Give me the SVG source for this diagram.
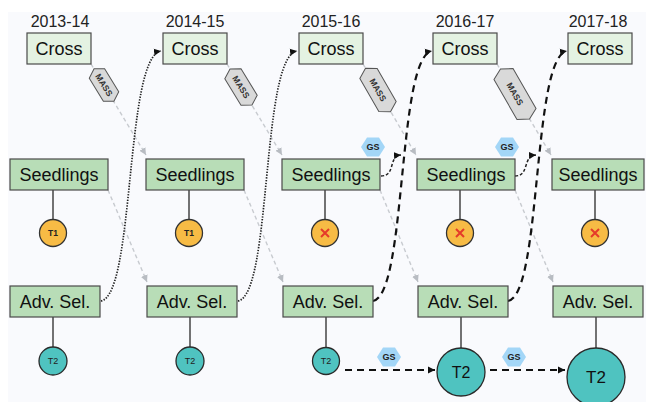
<svg xmlns="http://www.w3.org/2000/svg" width="646" height="402" viewBox="0 0 646 402">
<defs>
<style>
.yr{font-family:"Liberation Sans",Arial,sans-serif;font-size:16px;fill:#222;text-anchor:middle}
.lbl{font-family:"Liberation Sans",Arial,sans-serif;font-size:18px;fill:#111;text-anchor:middle}
.cross{fill:#e4f2e2;stroke:#4a4a4a;stroke-width:1.2}
.box{fill:#b8ddb7;stroke:#4a4a4a;stroke-width:1.2}
.stem{stroke:#444;stroke-width:1.5}
.t1{fill:#f7bb45;stroke:#333;stroke-width:1.3}
.t2{fill:#4fc3c0;stroke:#2a2a2a;stroke-width:1.3}
.small{font-family:"Liberation Sans",Arial,sans-serif;font-size:8.5px;font-weight:bold;fill:#222;text-anchor:middle}
.t2s{font-family:"Liberation Sans",Arial,sans-serif;font-size:9px;fill:#222;text-anchor:middle}
.xm{stroke:#e53a2a;stroke-width:2}
.mass{fill:#d9d9d9;stroke:#555;stroke-width:1}
.masst{font-family:"Liberation Sans",Arial,sans-serif;font-size:8.5px;font-weight:bold;fill:#333;text-anchor:middle}
.gs{fill:#a3d6f7}
.gst{font-family:"Liberation Sans",Arial,sans-serif;font-size:9px;font-weight:bold;fill:#222;text-anchor:middle}
.gray{fill:none;stroke:#c8cbd0;stroke-width:1.4;stroke-dasharray:4 3}
.dot{fill:none;stroke:#222;stroke-width:1.7;stroke-dasharray:1.4 1.4}
.dash{fill:none;stroke:#111;stroke-width:2.2;stroke-dasharray:7 5}
.sdash{fill:none;stroke:#222;stroke-width:1.5;stroke-dasharray:3 2}
</style>
<marker id="ag" markerWidth="8" markerHeight="8" refX="7" refY="4" orient="auto" markerUnits="userSpaceOnUse"><path d="M0,0.5 L7,4 L0,7.5 Z" fill="#b8bcc2"/></marker>
<marker id="ab" markerWidth="8" markerHeight="8" refX="7" refY="4" orient="auto" markerUnits="userSpaceOnUse"><path d="M0,0.5 L7,4 L0,7.5 Z" fill="#111"/></marker>
</defs>
<rect x="0" y="0" width="646" height="402" fill="#ffffff"/>
<rect x="8" y="12" width="638" height="390" fill="#f9fafd"/>

<g id="connectors">
<path class="gray" d="M91,64 L146,155" marker-end="url(#ag)"/>
<path class="gray" d="M227,64 L282,155" marker-end="url(#ag)"/>
<path class="gray" d="M363,64 L416,155" marker-end="url(#ag)"/>
<path class="gray" d="M497,64 L551,155" marker-end="url(#ag)"/>
<path class="gray" d="M108,190 L147,282" marker-end="url(#ag)"/>
<path class="gray" d="M244,190 L283,282" marker-end="url(#ag)"/>
<path class="gray" d="M380,190 L418,282" marker-end="url(#ag)"/>
<path class="gray" d="M515,190 L553,282" marker-end="url(#ag)"/>
<line class="stem" x1="53" y1="190" x2="53" y2="220"/>
<line class="stem" x1="189" y1="190" x2="189" y2="220"/>
<line class="stem" x1="325" y1="190" x2="325" y2="220"/>
<line class="stem" x1="460" y1="190" x2="460" y2="220"/>
<line class="stem" x1="595" y1="190" x2="595" y2="220"/>
<line class="stem" x1="53" y1="317" x2="53" y2="347"/>
<line class="stem" x1="190" y1="317" x2="190" y2="347"/>
<line class="stem" x1="326" y1="317" x2="326" y2="347"/>
<line class="stem" x1="461" y1="317" x2="461" y2="348"/>
<line class="stem" x1="596" y1="317" x2="596" y2="348"/>
<path class="dot" d="M101,301 C135,295 125,57 161,51" marker-end="url(#ab)"/>
<path class="dot" d="M238,301 C272,295 261,57 297,51" marker-end="url(#ab)"/>
<path class="dash" d="M373,301 C407,295 397,57 432,51" marker-end="url(#ab)"/>
<path class="dash" d="M508,301 C542,295 532,57 567,51" marker-end="url(#ab)"/>
<path class="sdash" d="M381,176 C396,176 388,156 401,155" marker-end="url(#ab)"/>
<path class="sdash" d="M515,176 C530,176 522,156 536,155" marker-end="url(#ab)"/>
<path class="dash" d="M345,370 L435,370" marker-end="url(#ab)"/>
<path class="dash" d="M490,370 L565,370" marker-end="url(#ab)"/>
</g>

<g id="years">
<text class="yr" x="60" y="27">2013-14</text>
<text class="yr" x="195" y="27">2014-15</text>
<text class="yr" x="331" y="27">2015-16</text>
<text class="yr" x="465" y="27">2016-17</text>
<text class="yr" x="598" y="27">2017-18</text>
</g>

<g id="cross1"><rect class="cross" x="27" y="33" width="64" height="31"/><text class="lbl" x="59" y="55">Cross</text></g>
<g id="cross2"><rect class="cross" x="163" y="33" width="64" height="31"/><text class="lbl" x="195" y="55">Cross</text></g>
<g id="cross3"><rect class="cross" x="299" y="33" width="64" height="31"/><text class="lbl" x="331" y="55">Cross</text></g>
<g id="cross4"><rect class="cross" x="433" y="33" width="64" height="31"/><text class="lbl" x="465" y="55">Cross</text></g>
<g id="cross5"><rect class="cross" x="568" y="33" width="64" height="31"/><text class="lbl" x="600" y="55">Cross</text></g>

<g id="seed1"><rect class="box" x="10" y="159" width="98" height="31"/><text class="lbl" x="59" y="181">Seedlings</text></g>
<g id="seed2"><rect class="box" x="146" y="159" width="98" height="31"/><text class="lbl" x="195" y="181">Seedlings</text></g>
<g id="seed3"><rect class="box" x="282" y="159" width="98" height="31"/><text class="lbl" x="331" y="181">Seedlings</text></g>
<g id="seed4"><rect class="box" x="417" y="159" width="98" height="31"/><text class="lbl" x="466" y="181">Seedlings</text></g>
<g id="seed5"><rect class="box" x="552" y="159" width="92" height="31"/><text class="lbl" x="598" y="181">Seedlings</text></g>

<g id="adv1"><rect class="box" x="10" y="286" width="90" height="31"/><text class="lbl" x="55" y="308">Adv. Sel.</text></g>
<g id="adv2"><rect class="box" x="147" y="286" width="90" height="31"/><text class="lbl" x="192" y="308">Adv. Sel.</text></g>
<g id="adv3"><rect class="box" x="283" y="286" width="90" height="31"/><text class="lbl" x="328" y="308">Adv. Sel.</text></g>
<g id="adv4"><rect class="box" x="418" y="286" width="90" height="31"/><text class="lbl" x="463" y="308">Adv. Sel.</text></g>
<g id="adv5"><rect class="box" x="553" y="286" width="90" height="31"/><text class="lbl" x="598" y="308">Adv. Sel.</text></g>

<g id="t1a"><circle class="t1" cx="53" cy="233" r="13.5"/><text class="small" x="53" y="236">T1</text></g>
<g id="t1b"><circle class="t1" cx="189" cy="233" r="13.5"/><text class="small" x="189" y="236">T1</text></g>
<g id="t1c"><circle class="t1" cx="325" cy="233" r="13.5"/><path class="xm" d="M321,229 L329,237 M329,229 L321,237"/></g>
<g id="t1d"><circle class="t1" cx="460" cy="233" r="13.5"/><path class="xm" d="M456,229 L464,237 M464,229 L456,237"/></g>
<g id="t1e"><circle class="t1" cx="595" cy="233" r="13.5"/><path class="xm" d="M591,229 L599,237 M599,229 L591,237"/></g>

<g id="t2a"><circle class="t2" cx="53" cy="361" r="14"/><text class="t2s" x="53" y="364">T2</text></g>
<g id="t2b"><circle class="t2" cx="190" cy="361" r="14"/><text class="t2s" x="190" y="364">T2</text></g>
<g id="t2c"><circle class="t2" cx="326" cy="361" r="13.5"/><text class="t2s" x="326" y="364">T2</text></g>
<g id="t2d"><circle class="t2" cx="461" cy="372" r="24"/><text class="lbl" x="461" y="378" style="font-size:16px">T2</text></g>
<g id="t2e"><circle class="t2" cx="596" cy="377" r="29"/><text class="lbl" x="596" y="383" style="font-size:17px">T2</text></g>

<g id="mass1" transform="translate(104,85) rotate(58.5)"><polygon class="mass" points="-19,0 -13.5,-9 13.5,-9 19,0 13.5,9 -13.5,9"/><text class="masst" x="0" y="3">MASS</text></g>
<g id="mass2" transform="translate(241,87) rotate(58.5)"><polygon class="mass" points="-21,0 -15.5,-9.5 15.5,-9.5 21,0 15.5,9.5 -15.5,9.5"/><text class="masst" x="0" y="3">MASS</text></g>
<g id="mass3" transform="translate(378,90) rotate(60)"><polygon class="mass" points="-25,0 -19,-10 19,-10 25,0 19,10 -19,10"/><text class="masst" x="0" y="3">MASS</text></g>
<g id="mass4" transform="translate(515,94) rotate(60)"><polygon class="mass" points="-29,0 -23,-11 23,-11 29,0 23,11 -23,11"/><text class="masst" x="0" y="3">MASS</text></g>

<g id="gs1"><polygon class="gs" points="361,147 367,137.5 379,137.5 385,147 379,156.5 367,156.5"/><text class="gst" x="373" y="150.2">GS</text></g>
<g id="gs2"><polygon class="gs" points="495,147 501,137.5 513,137.5 519,147 513,156.5 501,156.5"/><text class="gst" x="507" y="150.2">GS</text></g>
<g id="gs3"><polygon class="gs" points="377,357 383,347.5 395,347.5 401,357 395,366.5 383,366.5"/><text class="gst" x="389" y="360.2">GS</text></g>
<g id="gs4"><polygon class="gs" points="502,357 508,347.5 520,347.5 526,357 520,366.5 508,366.5"/><text class="gst" x="514" y="360.2">GS</text></g>
</svg>
